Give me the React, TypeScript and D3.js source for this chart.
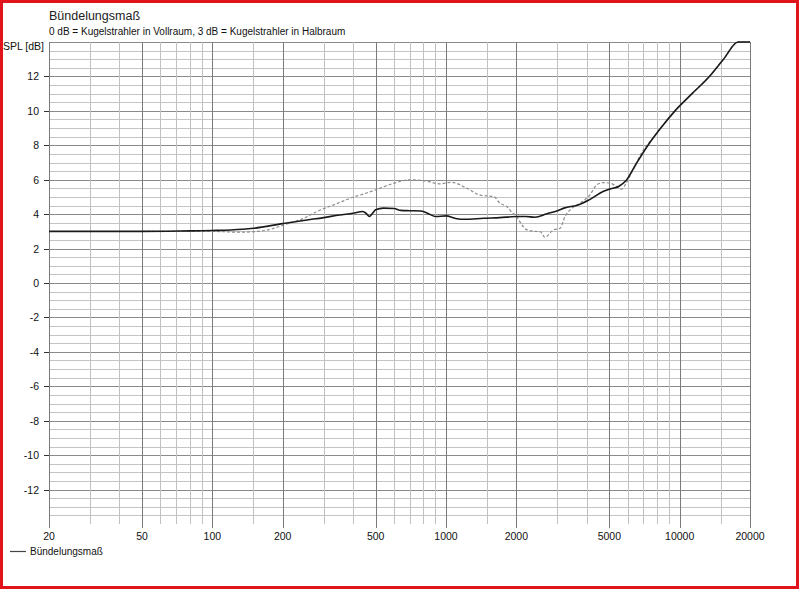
import React, { useEffect, useRef } from "react";
import * as d3 from "d3";

// solid curve
const solidFreq = [
	20, 50, 80, 100, 120, 150, 200, 250, 300, 350, 400, 440, 455, 470, 485, 500, 540, 600, 640, 700,
	780, 850, 900, 1000, 1100, 1200, 1450, 1700, 2000, 2200, 2400, 2700, 3000, 3200, 3700, 4100,
	4700, 5000, 5500, 5900, 6500, 7320, 8300, 9550, 11300, 13400, 15400, 17800, 20000,
];
const solidDb = [
	3.0, 3.0, 3.03, 3.05, 3.08, 3.18, 3.45, 3.65, 3.8, 3.95, 4.05, 4.15, 4.05, 3.86, 4.05, 4.25,
	4.35, 4.33, 4.22, 4.2, 4.18, 4.0, 3.86, 3.9, 3.75, 3.7, 3.76, 3.8, 3.86, 3.86, 3.82, 4.02, 4.2,
	4.35, 4.54, 4.83, 5.31, 5.45, 5.62, 5.95, 6.9, 8.0, 9.0, 10.0, 11.0, 12.0, 13.0, 14.0, 14.3,
];

// dashed curve
const dashFreq = [
	50, 100, 130, 150, 175, 200, 250, 280, 340, 390, 450, 500, 600, 700, 800, 950, 1050, 1230, 1400,
	1600, 1700, 1820, 1930, 2000, 2070, 2210, 2400, 2530, 2650, 2880, 3080, 3230, 3400, 3750, 4130,
	4420, 4710, 5040, 5380, 5650, 5900, 6300, 6900, 7500, 8300, 9550, 11300, 13400, 15400, 17800,
	20000,
];
const dashDb = [
	3.0, 3.0, 2.95, 2.98, 3.1, 3.35, 3.8, 4.15, 4.6, 4.93, 5.2, 5.41, 5.8, 5.99, 5.95, 5.76, 5.85,
	5.5, 5.1, 5.02, 4.64, 4.44, 4.05, 3.9, 3.57, 3.1, 3.0, 2.98, 2.66, 3.08, 3.18, 3.86, 4.25, 4.64,
	5.12, 5.7, 5.83, 5.8, 5.6, 5.45, 5.8, 6.55, 7.6, 8.25, 9.0, 10.0, 11.0, 12.0, 13.0, 14.0, 14.3,
];

const xTicks = [20, 50, 100, 200, 500, 1000, 2000, 5000, 10000, 20000];
const yTicks = [-12, -10, -8, -6, -4, -2, 0, 2, 4, 6, 8, 10, 12];
const gridMult = [1, 1.5, 2, 3, 4, 5, 6, 7, 8, 9];

const title = "Bündelungsmaß";
const subtitle = "0 dB = Kugelstrahler in Vollraum, 3 dB = Kugelstrahler in Halbraum";
const yLabel = "SPL [dB]";
const legendLabel = "Bündelungsmaß";

const W = 800;
const H = 590;
const font = "'Liberation Sans', Arial, sans-serif";

const App: React.FC = () => {
	const svgRef = useRef<SVGSVGElement>(null);

	useEffect(() => {
		if (!svgRef.current) return;
		const svg = d3.select(svgRef.current);
		svg.selectAll("*").remove();

		const left = 49;
		const right = 750;
		const top = 42;
		const bottom = 524;

		const x = d3.scaleLog().domain([20, 20000]).range([left, right]);
		const y = d3.scaleLinear().domain([-14, 14]).range([bottom, top]).clamp(true);

		svg.append("rect").attr("width", W).attr("height", H).attr("fill", "#fff");

		// horizontal grid, every 0.5 dB
		const hLines = d3.range(-13.5, 14.01, 0.5);
		svg
			.append("g")
			.selectAll("line")
			.data(hLines)
			.join("line")
			.attr("x1", left)
			.attr("x2", right)
			.attr("y1", (d) => Math.round(y(d)) + 0.5)
			.attr("y2", (d) => Math.round(y(d)) + 0.5)
			.attr("stroke", (d) => (yTicks.includes(d) || d === 14 ? "#8a8a8a" : "#c4c4c4"))
			.attr("stroke-width", 1);

		// vertical grid
		const vLines: number[] = [];
		[10, 100, 1000, 10000].forEach((dec) =>
			gridMult.forEach((m) => {
				const f = dec * m;
				if (f >= 20 && f <= 20000) vLines.push(f);
			})
		);
		svg
			.append("g")
			.selectAll("line")
			.data(vLines)
			.join("line")
			.attr("x1", (d) => Math.round(x(d)) + 0.5)
			.attr("x2", (d) => Math.round(x(d)) + 0.5)
			.attr("y1", top)
			.attr("y2", (d) => (xTicks.includes(d) ? bottom + 4 : bottom))
			.attr("stroke", (d) => (xTicks.includes(d) ? "#7a7a7a" : "#c0c0c0"))
			.attr("stroke-width", 1);

		// left axis ticks + labels
		const yAxis = svg.append("g");
		yAxis
			.selectAll("line")
			.data(yTicks)
			.join("line")
			.attr("x1", left - 5)
			.attr("x2", left)
			.attr("y1", (d) => Math.round(y(d)) + 0.5)
			.attr("y2", (d) => Math.round(y(d)) + 0.5)
			.attr("stroke", "#333");
		yAxis
			.selectAll("text")
			.data(yTicks)
			.join("text")
			.attr("x", 39)
			.attr("y", (d) => y(d) + 4)
			.attr("text-anchor", "end")
			.attr("font-family", font)
			.attr("font-size", 10.5)
			.attr("fill", "#111")
			.text((d) => d);

		// bottom labels
		svg
			.append("g")
			.selectAll("text")
			.data(xTicks)
			.join("text")
			.attr("x", (d) => x(d))
			.attr("y", 540)
			.attr("text-anchor", "middle")
			.attr("font-family", font)
			.attr("font-size", 10.5)
			.attr("fill", "#111")
			.text((d) => d);

		svg
			.append("text")
			.attr("x", 44)
			.attr("y", 50)
			.attr("text-anchor", "end")
			.attr("font-family", font)
			.attr("font-size", 10.5)
			.attr("fill", "#111")
			.text(yLabel);

		svg
			.append("text")
			.attr("x", 49)
			.attr("y", 20)
			.attr("font-family", font)
			.attr("font-size", 12.5)
			.attr("fill", "#222")
			.text(title);

		svg
			.append("text")
			.attr("x", 49)
			.attr("y", 34.5)
			.attr("font-family", font)
			.attr("font-size", 10)
			.attr("fill", "#111")
			.text(subtitle);

		const line = d3
			.line<[number, number]>()
			.x((d) => x(d[0]))
			.y((d) => y(d[1]))
			.curve(d3.curveMonotoneX);

		const dashPts = dashFreq.map((f, i) => [f, dashDb[i]] as [number, number]);
		const solidPts = solidFreq.map((f, i) => [f, solidDb[i]] as [number, number]);

		const plot = svg.append("g");
		plot
			.append("path")
			.attr("d", line(dashPts))
			.attr("fill", "none")
			.attr("stroke", "#8c8c8c")
			.attr("stroke-width", 1.2)
			.attr("stroke-dasharray", "3,2");
		plot
			.append("path")
			.attr("d", line(solidPts))
			.attr("fill", "none")
			.attr("stroke", "#1a1a1a")
			.attr("stroke-width", 1.6);

		// legend
		svg
			.append("line")
			.attr("x1", 10)
			.attr("x2", 26)
			.attr("y1", 551.5)
			.attr("y2", 551.5)
			.attr("stroke", "#444")
			.attr("stroke-width", 1.2);
		svg
			.append("text")
			.attr("x", 30)
			.attr("y", 555)
			.attr("font-family", font)
			.attr("font-size", 10)
			.attr("fill", "#111")
			.text(legendLabel);

		// red frame
		svg
			.append("rect")
			.attr("x", 1.5)
			.attr("y", 1.5)
			.attr("width", W - 4)
			.attr("height", H - 4)
			.attr("fill", "none")
			.attr("stroke", "#e0141a")
			.attr("stroke-width", 3);
	}, []);

	return (
		<svg
			ref={svgRef}
			width={W}
			height={H}
			style={{ position: "absolute", left: 0, top: 0, display: "block" }}
		/>
	);
};

export default App;
